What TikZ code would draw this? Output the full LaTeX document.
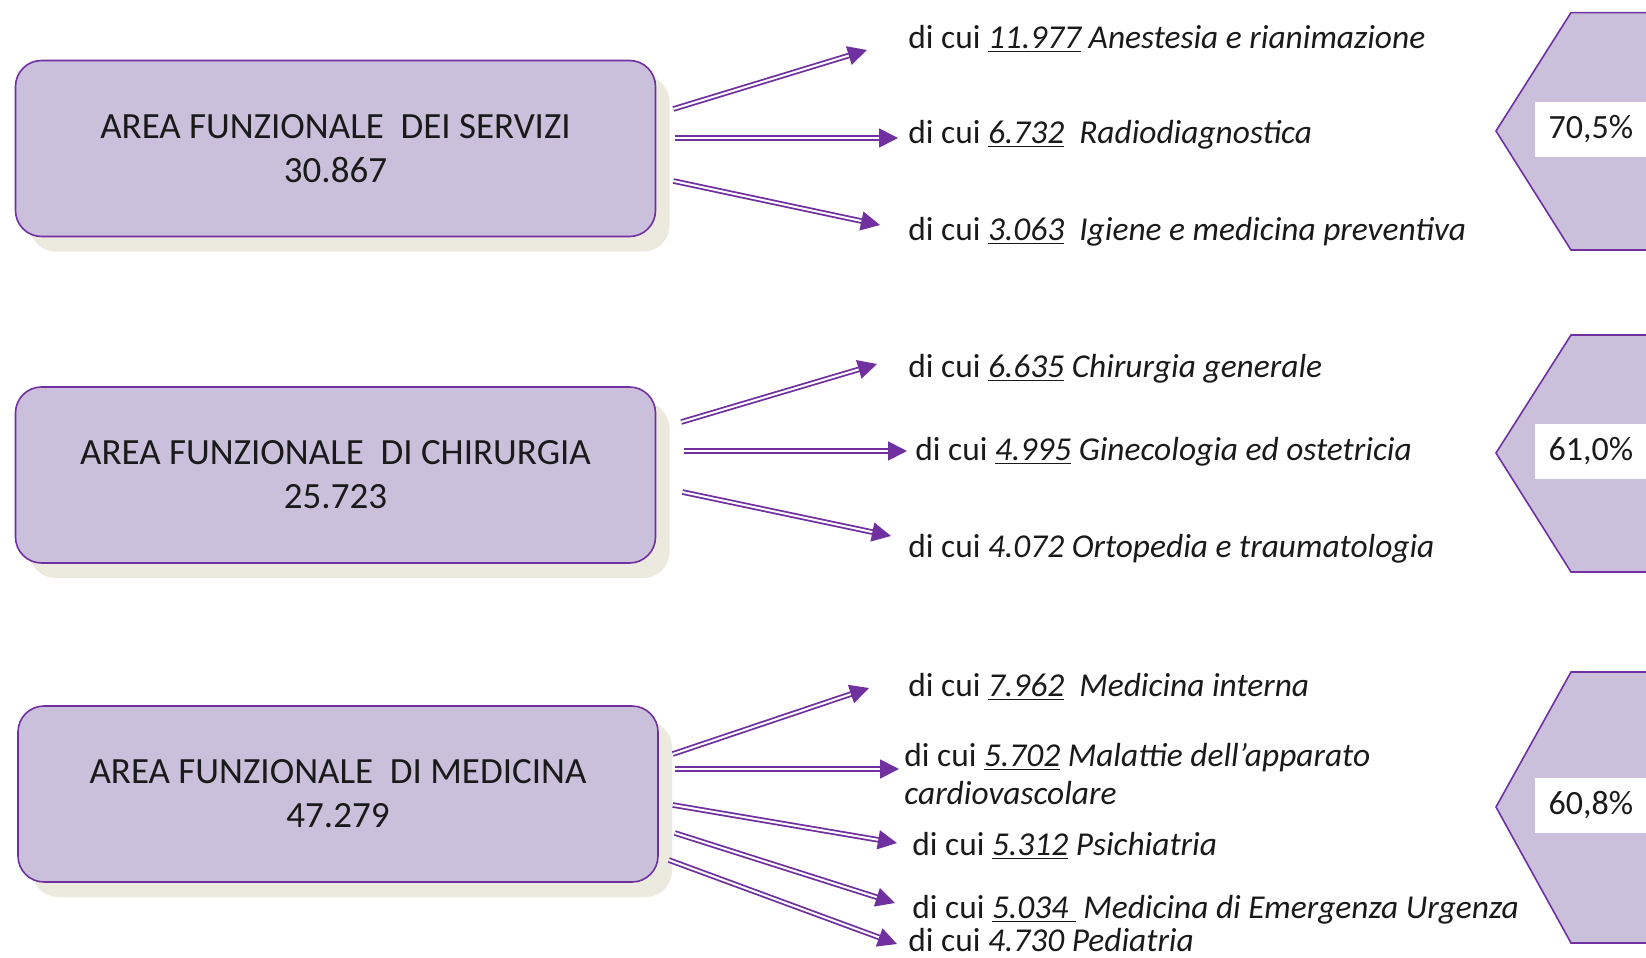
\documentclass[tikz,border=0pt]{standalone}
\usepackage{fontspec}
\setmainfont{Carlito}
\usetikzlibrary{arrows.meta,shadows}
\definecolor{ink}{HTML}{1A1A1A}
\definecolor{plum}{HTML}{7030A0}
\definecolor{lilac}{HTML}{CBC0DC}
\definecolor{sand}{HTML}{ECE9DF}
\tikzset{
  every node/.style={text=ink},
  areabox/.style={draw=plum,line width=0.8pt,fill=lilac,rounded corners=13pt,minimum width=320pt,minimum height=88pt,align=center,
    font=\fontsize{18.5}{22}\selectfont,drop shadow={shadow xshift=7pt,shadow yshift=-7.5pt,fill=sand,opacity=1}},
  leaf/.style={anchor=west,inner sep=0pt,align=left,font=\fontsize{16.7}{19}\selectfont},
  pct/.style={anchor=west,fill=white,inner sep=0pt,minimum width=55.5pt,minimum height=27.5pt,font=\fontsize{17}{20}\selectfont},
  hexa/.style={draw=plum,line width=0.8pt,fill=lilac},
  dblarr/.style={draw=plum,line width=0.9pt,double=white,double distance=1pt,-{Triangle[length=9.5pt,width=9.5pt]}}
}

\begin{document}
\begin{tikzpicture}[x=0.5pt,y=-0.5pt]
  \useasboundingbox (0,0) rectangle (1646,958);

  % the three areas
  \node[areabox] (servizi) at (335.5,148.5) {AREA FUNZIONALE\ \ DEI SERVIZI\\30.867};
  \node[areabox] (chirurgia) at (335.5,475) {AREA FUNZIONALE\ \ DI CHIRURGIA\\25.723};
  \node[areabox] (medicina) at (338,794) {AREA FUNZIONALE\ \ DI MEDICINA\\47.279};

  % specialities
  \node[leaf] (anest) at (908,39) {di cui \textit{\underline{11.977} Anestesia e rianimazione}};
  \node[leaf] (radio) at (908,135) {di cui \textit{\underline{6.732}\ \ Radiodiagnostica}};
  \node[leaf] (igiene) at (908,232) {di cui \textit{\underline{3.063}\ \ Igiene e medicina preventiva}};
  \node[leaf] (chirgen) at (908,369) {di cui \textit{\underline{6.635} Chirurgia generale}};
  \node[leaf] (gineco) at (915,452) {di cui \textit{\underline{4.995} Ginecologia ed ostetricia}};
  \node[leaf] (orto) at (908,549) {di cui \textit{4.072 Ortopedia e traumatologia}};
  \node[leaf] (medint) at (908,687) {di cui \textit{\underline{7.962}\ \ Medicina interna}};
  \node[leaf] (cardio) at (904,774) {di cui \textit{\underline{5.702} Malattie dell’apparato}\\\textit{cardiovascolare}};
  \node[leaf] (psich) at (912,846) {di cui \textit{\underline{5.312} Psichiatria}};
  \node[leaf] (emerg) at (912,910) {di cui \textit{\underline{5.034\ }\ Medicina di Emergenza Urgenza}};
  \node[leaf] (pediat) at (908,940) {di cui \textit{4.730 Pediatria}};

  % percentages
  \filldraw[hexa] (1660,12.6) -- (1571,12.6) -- (1496,131) -- (1571,250) -- (1660,250) -- cycle;
  \filldraw[hexa] (1660,335) -- (1571,335) -- (1496,453) -- (1571,572) -- (1660,572) -- cycle;
  \filldraw[hexa] (1660,672) -- (1571,672) -- (1496,807) -- (1571,943) -- (1660,943) -- cycle;
  \node[pct] (pserv) at (1535,129.5) {70,5\%};
  \node[pct] (pchir) at (1535,451.5) {61,0\%};
  \node[pct] (pmed) at (1535,805.5) {60,8\%};

  \draw[dblarr] ([shift={(17,-39.5)}]servizi.east) -- ([shift={(-41,11)}]anest.west);
  \draw[dblarr] ([shift={(19,-10.5)}]servizi.east) -- ([shift={(-10,3)}]radio.west);
  \draw[dblarr] ([shift={(17,32.5)}]servizi.east) -- ([shift={(-28,-7)}]igiene.west);

  \draw[dblarr] ([shift={(25,-53)}]chirurgia.east) -- ([shift={(-31,-5)}]chirgen.west);
  \draw[dblarr] ([shift={(28,-24)}]chirurgia.east) -- ([shift={(-8,-1)}]gineco.west);
  \draw[dblarr] ([shift={(26,17)}]chirurgia.east) -- ([shift={(-17,-13)}]orto.west);

  \draw[dblarr] ([shift={(14,-40)}]medicina.east) -- ([shift={(-39,1)}]medint.west);
  \draw[dblarr] ([shift={(16,-25)}]medicina.east) -- ([shift={(-5,-5)}]cardio.west);
  \draw[dblarr] ([shift={(14,11)}]medicina.east) -- ([shift={(-15,-3)}]psich.west);
  \draw[dblarr] ([shift={(16,39)}]medicina.east) -- ([shift={(-17,-7)}]emerg.west);
  \draw[dblarr] ([shift={(10,66)}]medicina.east) -- ([shift={(-11,4)}]pediat.west);
\end{tikzpicture}
\end{document}
